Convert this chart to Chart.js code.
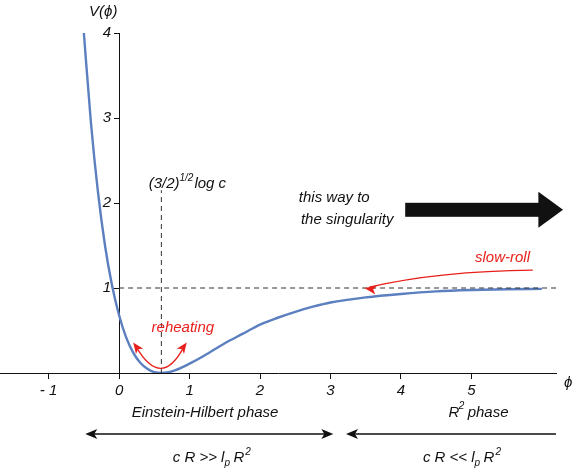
<!DOCTYPE html>
<html>
<head>
<meta charset="utf-8">
<script src="https://cdn.jsdelivr.net/npm/chart.js@4"></script>
<style>
  body { margin: 0; background: #fff; }
  #wrap { width: 581px; height: 472px; }
</style>
</head>
<body>
<div id="wrap"><canvas id="potChart"></canvas></div>
<script>
// values
const phiValues = [-0.5, -0.4, -0.3, -0.2, -0.1, 0, 0.1, 0.2, 0.3, 0.4, 0.5, 0.6, 0.7, 0.8, 1.0, 1.2, 1.5, 1.75, 2.0, 2.25, 2.5, 2.75, 3.0, 3.5, 4.0, 4.5, 5.0, 5.5, 6.0];
const potValues = [4.0, 2.95, 2.13, 1.50, 1.03, 0.68, 0.42, 0.24, 0.12, 0.05, 0.01, 0, 0.009, 0.033, 0.11, 0.20, 0.35, 0.46, 0.57, 0.65, 0.72, 0.78, 0.83, 0.89, 0.93, 0.96, 0.976, 0.985, 0.99];
const xTickLabels = { '-1': '- 1', '0': '0', '1': '1', '2': '2', '3': '3', '4': '4', '5': '5' };
const yTickLabels = { '1': '1', '2': '2', '3': '3', '4': '4' };
const minPhi = 0.6;
const plateau = 1;

const FONT = 'italic 15px "Liberation Sans", Arial, sans-serif';
const SMALL = 'italic 10px "Liberation Sans", Arial, sans-serif';
const RED = '#e8201c';

function arrowHead(c, x, y, ang, len, wid, color) {
  c.save();
  c.fillStyle = color;
  c.translate(x, y);
  c.rotate(ang);
  c.beginPath();
  c.moveTo(0, 0);
  c.lineTo(-len, -wid / 2);
  c.lineTo(-len * 0.75, 0);
  c.lineTo(-len, wid / 2);
  c.closePath();
  c.fill();
  c.restore();
}

const annotations = {
  id: 'annotations',
  afterDatasetsDraw(chart) {
    const c = chart.ctx;
    const xs = chart.scales.x, ys = chart.scales.y;
    const px = v => xs.getPixelForValue(v);
    const py = v => ys.getPixelForValue(v);
    const bottom = chart.chartArea.bottom;
    c.save();

    // y tick labels, left of the axis
    c.fillStyle = '#111';
    c.font = FONT;
    c.textBaseline = 'middle';
    c.textAlign = 'right';
    Object.keys(yTickLabels).forEach(v => c.fillText(yTickLabels[v], px(0) - 8, py(+v)));

    // dashed guide lines
    c.strokeStyle = '#333';
    c.lineWidth = 1;
    c.setLineDash([5, 4]);
    c.beginPath();
    c.moveTo(px(0), py(plateau));
    c.lineTo(px(6.2), py(plateau));
    c.moveTo(px(minPhi), py(0));
    c.lineTo(px(minPhi), py(2.15));
    c.stroke();
    c.setLineDash([]);

    c.textAlign = 'left';
    c.fillText('V(\u03d5)', px(0) - 30, 12);
    c.fillText('\u03d5', chart.chartArea.right + 8, bottom + 10);

    // (3/2)^{1/2} log c
    let tx = px(0.42), ty = py(2.22);
    c.fillText('(3/2)', tx, ty);
    let w = c.measureText('(3/2)').width;
    c.font = SMALL;
    c.fillText('1/2', tx + w, ty - 6);
    let w2 = c.measureText('1/2').width;
    c.font = FONT;
    c.fillText('log c', tx + w + w2 + 1, ty);

    // singularity text and big arrow
    c.fillText('this way to', px(2.55), py(2.06));
    c.fillText('the singularity', px(2.58), py(1.8));
    c.fillRect(px(4.06), py(1.92) - 7, px(6.0) - px(4.06), 14);
    c.beginPath();
    c.moveTo(px(5.95), py(1.92) - 18);
    c.lineTo(px(6.3), py(1.92));
    c.lineTo(px(5.95), py(1.92) + 18);
    c.closePath();
    c.fill();

    // slow-roll
    c.fillStyle = RED;
    c.fillText('slow-roll', px(5.05), py(1.36));
    c.strokeStyle = RED;
    c.lineWidth = 1.3;
    c.beginPath();
    c.moveTo(px(5.87), py(1.21));
    c.quadraticCurveTo(px(4.55), py(1.2), px(3.55), py(1.01));
    c.stroke();
    arrowHead(c, px(3.48), py(1.0), Math.PI + 0.18, 12, 9, RED);

    // reheating
    c.fillText('reheating', px(1.0) - 38, py(0.53));
    c.beginPath();
    c.moveTo(px(0.24), py(0.31));
    c.quadraticCurveTo(px(0.6), py(-0.2), px(0.92), py(0.31));
    c.stroke();
    arrowHead(c, px(0.2), py(0.36), -2.2, 11, 9, RED);
    arrowHead(c, px(0.96), py(0.36), -0.95, 11, 9, RED);

    // phases below the axis
    c.fillStyle = '#111';
    c.strokeStyle = '#111';
    c.textAlign = 'center';
    c.fillText('Einstein-Hilbert phase', px(1.22), bottom + 40);
    c.fillText('R  phase', px(5.1), bottom + 40);
    c.font = SMALL;
    c.fillText('2', px(5.1) - 17, bottom + 33);
    c.font = FONT;

    c.lineWidth = 1.3;
    const ay = bottom + 61;
    c.beginPath();
    c.moveTo(px(-0.4), ay); c.lineTo(px(2.95), ay);
    c.moveTo(px(3.35), ay); c.lineTo(px(6.2), ay);
    c.stroke();
    arrowHead(c, px(-0.48), ay, Math.PI, 12, 10, '#111');
    arrowHead(c, px(3.04), ay, 0, 12, 10, '#111');
    arrowHead(c, px(3.22), ay, Math.PI, 12, 10, '#111');

    // c R >> l_p R^2
    function relation(x, op) {
      c.textAlign = 'left';
      const y = bottom + 85;
      const parts = 'c R ' + op + ' l';
      const total = c.measureText(parts + '  R ').width + 8;
      let sx = x - total / 2;
      c.fillText(parts, sx, y);
      sx += c.measureText(parts).width;
      c.font = SMALL;
      c.fillText('p', sx, y + 5);
      c.font = FONT;
      c.fillText('R', sx + 9, y);
      const rw = c.measureText('R').width;
      c.font = SMALL;
      c.fillText('2', sx + 10 + rw, y - 6);
      c.font = FONT;
    }
    relation(px(1.35), '>>');
    relation(px(4.9), '<<');
    c.restore();
  }
};

new Chart(document.getElementById('potChart'), {
  type: 'scatter',
  data: {
    datasets: [{
      data: phiValues.map((p, i) => ({ x: p, y: potValues[i] })),
      showLine: true,
      borderColor: '#5b7fbf',
      borderWidth: 2.4,
      pointRadius: 0,
      cubicInterpolationMode: 'monotone'
    }]
  },
  options: {
    responsive: true,
    maintainAspectRatio: false,
    animation: false,
    layout: { padding: { left: 0, right: 25, top: 33, bottom: 99 } },
    plugins: { legend: { display: false }, tooltip: { enabled: false } },
    scales: {
      x: {
        type: 'linear',
        position: { y: 0 },
        min: -1.69, max: 6.2,
        afterBuildTicks: s => { s.ticks = Object.keys(xTickLabels).map(v => ({ value: +v })); },
        ticks: {
          callback: v => xTickLabels[String(v)] ?? '',
          color: '#111',
          font: { family: '"Liberation Sans", Arial', style: 'italic', size: 15 },
          padding: 4
        },
        grid: { drawOnChartArea: false, drawTicks: true, tickLength: 5, color: '#111' },
        border: { color: '#111', width: 1 }
      },
      y: {
        type: 'linear',
        position: { x: 0 },
        min: 0, max: 4,
        afterBuildTicks: s => { s.ticks = Object.keys(yTickLabels).map(v => ({ value: +v })); },
        ticks: { display: false },
        grid: { drawOnChartArea: false, drawTicks: true, tickLength: 5, color: '#111' },
        border: { color: '#111', width: 1 }
      }
    }
  },
  plugins: [annotations]
});
</script>
</body>
</html>
